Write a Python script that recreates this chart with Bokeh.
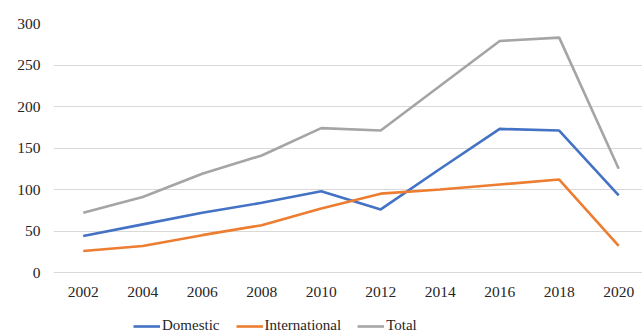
from bokeh.plotting import figure
from bokeh.models import Range1d, FixedTicker, Legend, LegendItem
from bokeh.embed import file_html
from bokeh.resources import INLINE

years = [2002, 2004, 2006, 2008, 2010, 2012, 2014, 2016, 2018, 2020]
domestic = [44, 58, 72, 84, 98, 76, 125, 173, 171, 93]
international = [26, 32, 45, 57, 77, 95, 100, 106, 112, 32]
total = [72, 91, 119, 141, 174, 171, 225, 279, 283, 125]
y_ticks = [0, 50, 100, 150, 200, 250, 300]

FONT = "'Liberation Serif', 'Times New Roman', serif"

# frame spans y = 23..336 px; 0 lands at y = 272 px, 300 at y = 23 px
p = figure(width=642, height=336, output_backend="svg", toolbar_location=None,
           x_range=Range1d(2001, 2020.8), y_range=Range1d(-77.1, 300),
           min_border_left=53, min_border_right=0, min_border_top=23,
           min_border_bottom=0)
p.outline_line_color = None
p.background_fill_color = "white"
p.border_fill_color = "white"

r1 = p.line(years, domestic, line_color="#4472C4", line_width=2.6)
r2 = p.line(years, international, line_color="#ED7D31", line_width=2.6)
r3 = p.line(years, total, line_color="#A5A5A5", line_width=2.6)

p.xgrid.grid_line_color = None
p.ygrid.grid_line_color = "#D9D9D9"
p.ygrid.grid_line_width = 1.2

p.yaxis.ticker = FixedTicker(ticks=y_ticks)
p.xaxis.ticker = FixedTicker(ticks=years)
p.xaxis.fixed_location = 0
for ax in (p.xaxis[0], p.yaxis[0]):
    ax.axis_line_color = None
    ax.major_tick_line_color = None
    ax.minor_tick_line_color = None
    ax.major_tick_out = 0
    ax.major_tick_in = 0
    ax.major_label_text_font = FONT
    ax.major_label_text_font_size = "15.5px"
    ax.major_label_text_color = "#262626"
p.yaxis.major_label_standoff = 13
p.xaxis.major_label_standoff = 14

legend = Legend(items=[LegendItem(label="Domestic", renderers=[r1]),
                       LegendItem(label="International", renderers=[r2]),
                       LegendItem(label="Total", renderers=[r3])],
                orientation="horizontal", location=(80, 2),
                padding=0, margin=0, spacing=16, label_standoff=2,
                glyph_width=27, glyph_height=16, label_height=16,
                label_text_font=FONT, label_text_font_size="15px",
                label_text_color="#262626",
                border_line_color=None, background_fill_alpha=0)
p.add_layout(legend, "center")

open("out.html", "w").write(file_html(p, INLINE))
